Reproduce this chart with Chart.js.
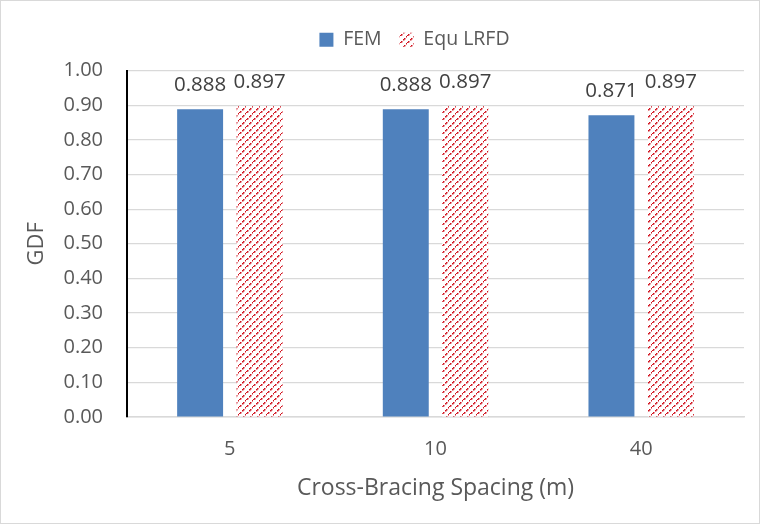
<!DOCTYPE html>
<html><head><meta charset="utf-8">
<script src="https://cdn.jsdelivr.net/npm/chart.js@4"></script>
<style>
html,body{margin:0;padding:0;background:#fff;}
#wrap{position:absolute;left:0;top:0;width:758px;height:522px;border:1px solid #d9d9d9;}
canvas{display:block;}
</style></head><body>
<div id="wrap"><canvas id="c" width="758" height="522"></canvas></div>
<script>
const categories = ["5", "10", "40"];
const femValues = [0.888, 0.888, 0.871];
const lrfdValues = [0.897, 0.897, 0.897];
const seriesNames = ["FEM", "Equ LRFD"];
const yTicks = [0, 0.1, 0.2, 0.3, 0.4, 0.5, 0.6, 0.7, 0.8, 0.9, 1.0];

const FONT = "'Open Sans', sans-serif";
const TXT = "#595959";

function makePattern() {
  const t = document.createElement('canvas');
  t.width = 7; t.height = 7;
  const g = t.getContext('2d');
  g.fillStyle = '#fff'; g.fillRect(0,0,7,7);
  g.fillStyle = '#d0101c';
  for (let i = 0; i < 7; i++) {
    if (i % 3 === 2) continue;
    g.fillRect(i, 6 - i, 1.5, 1.5);
  }
  const ctx = document.getElementById('c').getContext('2d');
  return ctx.createPattern(t, 'repeat');
}
const pat = makePattern();

const labelPlugin = {
  id: 'vals',
  beforeLayout(chart) {
    const lg = chart.legend;
    if (lg && !lg._patched) {
      const f = lg.fit;
      lg.fit = function () { f.call(this); this.height += 11; };
      lg._patched = true;
    }
  },
  afterLayout(chart) {
    const lg = chart.legend;
    if (lg) { lg.left += 32; lg.right += 32; }
  },
  afterDatasetsDraw(chart) {
    const ctx = chart.ctx;
    ctx.save();
    ctx.font = "20.5px " + FONT;
    ctx.fillStyle = "#404040";
    ctx.textAlign = 'center';
    ctx.textBaseline = 'alphabetic';
    chart.data.datasets.forEach((ds, di) => {
      chart.getDatasetMeta(di).data.forEach((bar, i) => {
        ctx.fillText(ds.data[i].toFixed(3), bar.x, bar.y - 18);
      });
    });
    ctx.restore();
  }
};

new Chart(document.getElementById('c'), {
  type: 'bar',
  data: {
    labels: categories,
    datasets: [
      { label: seriesNames[0], data: femValues, backgroundColor: '#4f81bd', borderWidth: 0,
        categoryPercentage: 0.578, barPercentage: 0.773 },
      { label: seriesNames[1], data: lrfdValues, backgroundColor: pat, borderWidth: 0,
        categoryPercentage: 0.578, barPercentage: 0.773 }
    ]
  },
  options: {
    responsive: false,
    animation: false,
    layout: { padding: { left: 20, right: 15, top: 11, bottom: 18 } },
    plugins: {
      legend: {
        position: 'top',
        labels: { font: { size: 19.5, family: FONT }, color: TXT, boxWidth: 14, boxHeight: 14, padding: 18 }
      },
      tooltip: { enabled: false }
    },
    scales: {
      x: {
        afterFit(s) { s.height = 88; },
        grid: { display: false, drawTicks: false },
        border: { color: '#d9d9d9', width: 1.5 },
        ticks: { font: { size: 20, family: FONT }, color: TXT, padding: 20 },
        title: { display: true, text: 'Cross-Bracing Spacing (m)', font: { size: 23, family: FONT }, color: TXT, padding: { top: 4, bottom: 3 } }
      },
      y: {
        min: 0, max: 1,
        afterBuildTicks(s) { s.ticks = yTicks.map(v => ({ value: v })); },
        afterFit(s) { s.width = 106; },
        grid: { color: '#d9d9d9', lineWidth: 1.2, drawTicks: false },
        border: { color: '#000', width: 2 },
        ticks: { font: { size: 20, family: FONT }, color: TXT, padding: 24, callback: v => Number(v).toFixed(2) },
        title: { display: true, text: 'GDF', font: { size: 22, family: FONT }, color: TXT, padding: { top: 3, bottom: 4 } }
      }
    }
  },
  plugins: [labelPlugin]
});
</script>
</body></html>
